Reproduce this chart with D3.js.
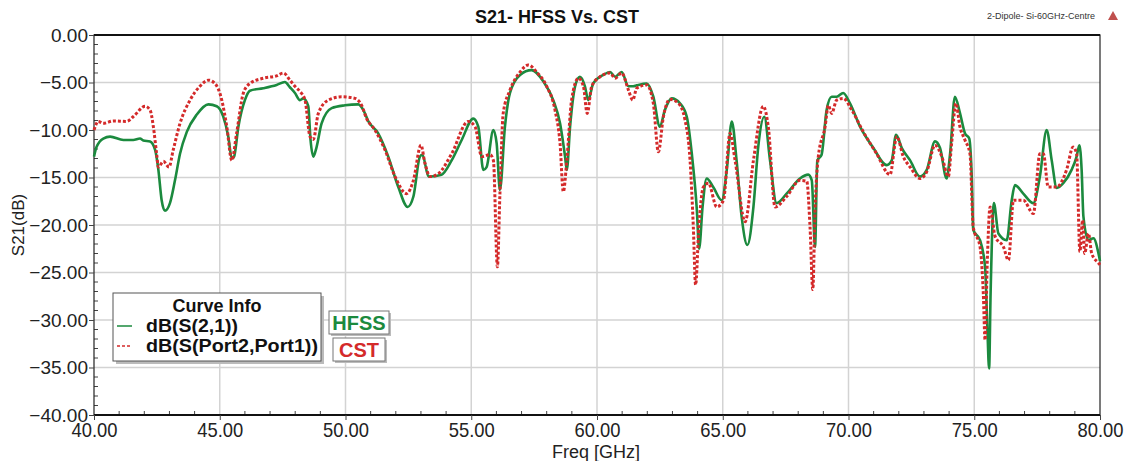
<!DOCTYPE html>
<html><head><meta charset="utf-8">
<script src="https://cdn.jsdelivr.net/npm/d3@7"></script>
<style>
body{margin:0;background:#fff;}
text{font-family:"Liberation Sans",Arial,sans-serif;}
</style></head>
<body><svg id="c" width="1126" height="461"></svg>
<script>
const title = "S21- HFSS Vs. CST";
const subtitle = "2-Dipole- Si-60GHz-Centre";
const xLabel = "Freq [GHz]";
const yLabel = "S21(dB)";
const xTicks = [40,45,50,55,60,65,70,75,80];
const yTicks = [0,-5,-10,-15,-20,-25,-30,-35,-40];
const seriesNames = ["dB(S(2,1))","dB(S(Port2,Port1))"];
const tagNames = ["HFSS","CST"];

const hfssFreq = [40,40.1,40.37,40.64,41.17,41.56,41.83,41.96,42.23,42.43,42.56,42.69,42.82,43.02,43.22,43.42,43.69,44.08,44.55,44.88,45.14,45.34,45.48,45.57,45.74,46.0,46.2,46.73,47.26,47.59,47.79,47.99,48.19,48.32,48.52,48.61,48.72,48.85,49.05,49.45,49.98,50.51,50.71,50.91,51.3,51.7,52.1,52.47,52.7,52.96,53.06,53.3,53.82,54.22,54.62,55.08,55.28,55.48,55.61,55.88,56.01,56.14,56.34,56.54,56.94,57.4,57.87,58.26,58.53,58.73,58.8,58.93,59.13,59.32,59.52,59.65,59.85,60.25,60.52,60.72,60.98,61.25,61.44,61.58,61.98,62.24,62.5,62.7,62.97,63.3,63.57,63.77,63.97,64.06,64.2,64.36,64.62,64.96,65.16,65.36,65.55,65.75,65.98,66.22,66.41,66.65,66.88,67.14,67.54,68.07,68.4,68.54,68.67,68.76,68.93,69.13,69.33,69.53,69.79,70.06,70.46,70.99,71.52,71.72,71.89,72.12,72.45,72.84,73.11,73.44,73.64,73.9,74.04,74.23,74.43,74.63,74.8,74.9,74.96,75.23,75.43,75.52,75.59,75.65,75.78,75.96,76.29,76.49,76.62,76.95,77.35,77.61,77.88,78.08,78.28,78.54,78.87,79.07,79.18,79.27,79.34,79.54,79.74,79.94,80];
const hfssDb = [-12.8,-11.8,-10.9,-10.7,-11.05,-11.05,-10.9,-11.1,-11.2,-12.1,-14.2,-17.4,-18.5,-17.7,-15.3,-12.5,-10.2,-8.4,-7.3,-7.5,-8.6,-10.7,-13.0,-12.8,-9.65,-6.85,-5.86,-5.6,-5.26,-4.95,-5.5,-6.1,-6.85,-6.67,-7.5,-11.05,-12.8,-11.8,-9.3,-7.7,-7.4,-7.3,-7.9,-9.1,-10.35,-12.8,-16.0,-18.1,-17.0,-12.8,-12.6,-14.9,-14.7,-13.2,-11.05,-8.8,-9.65,-14.2,-13.9,-10.0,-11.4,-16.3,-9.65,-6.1,-4.2,-3.7,-4.9,-6.85,-9.3,-12.8,-14.2,-9.65,-5.4,-4.4,-5.4,-6.85,-5.1,-4.2,-3.9,-4.4,-3.9,-5.4,-5.4,-5.3,-5.1,-6.5,-9.65,-7.9,-6.67,-7.2,-8.6,-12.5,-18.4,-22.5,-18.0,-15.1,-16.0,-17.4,-14.2,-9.1,-13.2,-19.1,-22.1,-18.1,-11.8,-8.6,-13.2,-17.7,-16.7,-15.1,-14.7,-15.3,-22.3,-13.2,-12.6,-7.9,-6.5,-6.5,-6.1,-7.2,-9.65,-11.9,-13.7,-13.2,-10.5,-11.9,-13.2,-14.9,-14.2,-11.2,-11.9,-15.1,-12.5,-6.5,-8.2,-10.35,-10.9,-14.9,-20.5,-21.6,-24.4,-30.7,-35.1,-27.2,-17.7,-20.9,-21.6,-17.4,-15.8,-16.7,-17.7,-14.9,-10.0,-13.2,-16.1,-15.6,-14.2,-12.8,-11.6,-14.2,-19.1,-21.6,-21.4,-23.0,-23.8];

const cstFreq = [40,40.17,40.37,40.77,41.3,41.56,42.03,42.23,42.36,42.49,42.56,42.76,42.98,43.15,43.42,43.82,44.21,44.55,44.81,45.08,45.28,45.48,45.67,45.94,46.2,46.73,47.26,47.53,47.79,47.99,48.19,48.39,48.59,48.72,48.92,49.32,49.85,50.38,50.64,50.84,51.17,51.57,51.97,52.43,52.7,53.0,53.16,53.36,53.69,54.22,54.88,55.15,55.42,55.75,55.88,56.04,56.14,56.27,56.54,56.94,57.27,57.6,58.0,58.33,58.53,58.66,58.8,58.99,59.26,59.46,59.61,59.79,60.12,60.52,60.72,60.98,61.25,61.42,61.58,61.98,62.24,62.44,62.64,62.9,63.24,63.5,63.7,63.83,63.92,64.05,64.23,64.43,64.76,65.03,65.29,65.49,65.89,66.22,66.61,66.81,67.08,67.54,68.07,68.34,68.47,68.58,68.67,68.8,69.07,69.2,69.33,69.53,69.79,70.13,70.59,71.12,71.65,71.92,72.18,72.45,72.84,73.11,73.44,73.71,73.97,74.1,74.27,74.43,74.63,74.83,74.96,75.23,75.36,75.43,75.52,75.63,75.83,76.16,76.36,76.56,76.95,77.35,77.61,77.75,77.94,78.28,78.67,78.93,79.07,79.2,79.31,79.39,79.54,79.67,79.94,80];
const cstDb = [-10.0,-9.1,-9.3,-9.05,-9.1,-8.6,-7.5,-7.9,-9.65,-12.5,-13.9,-13.3,-13.9,-12.1,-9.3,-6.85,-5.4,-4.75,-5.1,-6.85,-9.65,-13.2,-10.35,-6.1,-5.1,-4.55,-4.3,-4.0,-4.75,-5.4,-5.95,-6.85,-10.7,-11.0,-8.25,-6.85,-6.5,-6.67,-7.4,-8.8,-10.0,-12.1,-14.9,-16.7,-15.3,-11.6,-13.5,-14.9,-14.6,-12.5,-9.1,-9.65,-12.8,-12.6,-13.2,-24.4,-16.7,-8.25,-5.8,-3.9,-3.15,-3.9,-5.4,-7.9,-11.4,-16.5,-13.2,-6.85,-4.55,-5.4,-8.25,-5.4,-4.4,-4.0,-4.55,-4.0,-5.8,-6.85,-5.6,-5.26,-7.2,-12.3,-8.6,-6.77,-7.2,-8.95,-13.2,-20.2,-26.3,-20.2,-16.0,-15.6,-18.1,-17.4,-10.35,-13.2,-19.65,-13.2,-7.5,-9.65,-18.1,-17.0,-15.3,-15.4,-20.2,-26.8,-18.4,-12.8,-9.65,-7.4,-8.25,-6.85,-6.67,-7.9,-10.2,-12.5,-14.7,-10.7,-12.8,-13.9,-15.1,-14.4,-11.6,-12.8,-14.9,-11.4,-7.2,-9.65,-11.05,-12.5,-20.2,-22.3,-27.2,-32.1,-23.7,-18.1,-21.2,-22.3,-23.7,-17.4,-17.4,-18.8,-12.5,-12.5,-16.0,-16.0,-14.2,-11.8,-12.5,-22.8,-19.5,-23.0,-20.9,-23.0,-24.0,-24.2];

const svg = d3.select("#c");
const L = 94, R = 1100, T = 35, B = 415;
const x = d3.scaleLinear().domain([40,80]).range([L,R]);
const y = d3.scaleLinear().domain([-40,0]).range([B,T]);

// gridlines
svg.append("g").selectAll("line").data(xTicks.slice(1,-1)).join("line")
  .attr("x1",d=>x(d)).attr("x2",d=>x(d)).attr("y1",T).attr("y2",B)
  .attr("stroke","#d3d3d3").attr("stroke-width",1.5);
svg.append("g").selectAll("line").data(yTicks.slice(1,-1)).join("line")
  .attr("y1",d=>y(d)).attr("y2",d=>y(d)).attr("x1",L).attr("x2",R)
  .attr("stroke","#d3d3d3").attr("stroke-width",1.5);

// minor ticks
svg.append("g").selectAll("line").data(d3.range(-40,0.01,1)).join("line")
  .attr("x1",L).attr("x2",d=>L+(d%5===0?0:4)).attr("y1",d=>y(d)).attr("y2",d=>y(d))
  .attr("stroke","#444").attr("stroke-width",1);
svg.append("g").selectAll("line").data(d3.range(40,80.01,1)).join("line")
  .attr("y1",B).attr("y2",d=>B-(d%5===0?0:4)).attr("x1",d=>x(d)).attr("x2",d=>x(d))
  .attr("stroke","#444").attr("stroke-width",1);

// frame
svg.append("rect").attr("x",L).attr("y",T).attr("width",R-L).attr("height",B-T)
  .attr("fill","none").attr("stroke","#222").attr("stroke-width",1.2);
svg.append("line").attr("x1",L).attr("x2",R).attr("y1",T).attr("y2",T).attr("stroke","#111").attr("stroke-width",2);
svg.append("line").attr("x1",L).attr("x2",R).attr("y1",B).attr("y2",B).attr("stroke","#111").attr("stroke-width",2);

// axes
const xAxis = d3.axisBottom(x).tickValues(xTicks).tickFormat(d3.format(".2f")).tickSize(5);
const gx = svg.append("g").attr("transform",`translate(0,${B})`).call(xAxis);
gx.select(".domain").remove();
gx.selectAll("line").attr("stroke","#444");
gx.selectAll("text").attr("font-size",20).attr("fill","#222").attr("dy","0.71em").attr("y",8)
  .attr("transform","scale(0.92,1)");
const yAxis = d3.axisLeft(y).tickValues(yTicks).tickFormat(d3.format(".2f")).tickSize(5);
const gy = svg.append("g").attr("transform",`translate(${L},0)`).call(yAxis);
gy.select(".domain").remove();
gy.selectAll("line").attr("stroke","#444");
gy.selectAll("text").attr("font-size",19).attr("fill","#222").attr("x",-6);

svg.append("text").attr("x",596).attr("y",458).attr("text-anchor","middle")
  .attr("font-size",18).attr("fill","#222").text(xLabel);
svg.append("text").attr("transform","translate(24,225) rotate(-90)").attr("text-anchor","middle")
  .attr("font-size",17).attr("fill","#222").text(yLabel);

svg.append("text").attr("x",557).attr("y",23).attr("text-anchor","middle")
  .attr("font-size",18).attr("font-weight","bold").attr("fill","#111").text(title);
svg.append("text").attr("x",1095).attr("y",19).attr("text-anchor","end")
  .attr("font-size",9).attr("fill","#333").text(subtitle);
svg.append("path").attr("d","M1108,20 L1113,11 L1118,20 Z").attr("fill","#c0504d");

// curves
const line = d3.line().x(d=>x(d[0])).y(d=>y(d[1])).curve(d3.curveMonotoneX);
const hfss = hfssFreq.map((f,i)=>[f,hfssDb[i]]);
const cst = cstFreq.map((f,i)=>[f,cstDb[i]]);
svg.append("path").datum(hfss).attr("d",line).attr("fill","none")
  .attr("stroke","#1b8a3e").attr("stroke-width",2.6).attr("stroke-linejoin","round");
svg.append("path").datum(cst).attr("d",line).attr("fill","none")
  .attr("stroke","#d42a2a").attr("stroke-width",3).attr("stroke-dasharray","3,2");

// legend
const lg = svg.append("g");
lg.append("rect").attr("x",116).attr("y",296).attr("width",208).attr("height",68).attr("fill","#bbb");
lg.append("rect").attr("x",113).attr("y",293).attr("width",208).attr("height",68).attr("fill","#fff")
  .attr("stroke","#555").attr("stroke-width",1);
lg.append("text").attr("x",217).attr("y",312).attr("text-anchor","middle").attr("font-weight","bold")
  .attr("font-size",18).attr("fill","#111").text("Curve Info");
const colors = ["#1b8a3e","#d42a2a"];
const dashes = [null,"3,2"];
seriesNames.forEach((n,i)=>{
  const yy = 332 + i*20;
  lg.append("line").attr("x1",117).attr("x2",132).attr("y1",yy-6).attr("y2",yy-6)
    .attr("stroke",colors[i]).attr("stroke-width",1.5).attr("stroke-dasharray",dashes[i]);
  lg.append("text").attr("x",146).attr("y",yy).attr("font-size",18).attr("font-weight","bold")
    .attr("fill","#111").attr("textLength",i===0?92:172).attr("lengthAdjust","spacingAndGlyphs").text(n);
});
// tags
const tagBoxes = [[329,311,60,23],[333,338,52,23]];
tagNames.forEach((t,i)=>{
  const b = tagBoxes[i];
  svg.append("rect").attr("x",b[0]+2).attr("y",b[1]+2).attr("width",b[2]).attr("height",b[3]).attr("fill","#bbb");
  svg.append("rect").attr("x",b[0]).attr("y",b[1]).attr("width",b[2]).attr("height",b[3]).attr("fill","#fff")
    .attr("stroke","#777").attr("stroke-width",1);
  svg.append("text").attr("x",b[0]+b[2]/2).attr("y",b[1]+b[3]-4).attr("text-anchor","middle")
    .attr("font-size",20).attr("font-weight","bold").attr("fill",colors[i]).text(t);
});
</script></body></html>
